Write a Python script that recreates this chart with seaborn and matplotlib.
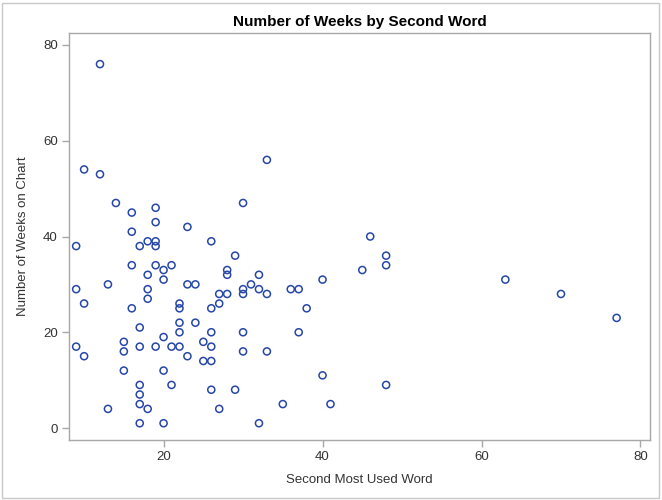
import matplotlib
matplotlib.use("Agg")
import matplotlib.pyplot as plt
from matplotlib.patches import Rectangle
import seaborn as sns
import pandas as pd

# Second most used word count vs. weeks on chart
second_word = [12, 10, 12, 14, 16, 19, 19, 23, 16, 18, 19, 19, 17, 9, 16, 19, 21, 20, 18, 20,
               9, 13, 18, 23, 24, 18, 10, 16, 22, 22, 22, 24, 17, 20, 22, 9, 15, 15, 17, 19,
               21, 22, 10, 23, 15, 20, 17, 21, 17, 17, 13, 18, 17, 20, 33, 30, 26, 29, 28, 28,
               32, 30, 31, 32, 36, 37, 40, 27, 28, 30, 33, 26, 27, 38, 26, 30, 37, 25, 26, 25,
               26, 30, 33, 40, 26, 29, 27, 35, 41, 32, 46, 48, 48, 45, 63, 70, 77, 48]
weeks_on_chart = [76, 54, 53, 47, 45, 46, 43, 42, 41, 39, 39, 38, 38, 38, 34, 34, 34, 33, 32, 31,
                  29, 30, 29, 30, 30, 27, 26, 25, 26, 25, 22, 22, 21, 19, 20, 17, 18, 16, 17, 17,
                  17, 17, 15, 15, 12, 12, 9, 9, 7, 5, 4, 4, 1, 1, 56, 47, 39, 36, 33, 32,
                  32, 29, 30, 29, 29, 29, 31, 28, 28, 28, 28, 25, 26, 25, 20, 20, 20, 18, 17, 14,
                  14, 16, 16, 11, 8, 8, 4, 5, 5, 1, 40, 36, 34, 33, 31, 28, 23, 9]

x_ticks = [20, 40, 60, 80]
y_ticks = [0, 20, 40, 60, 80]

df = pd.DataFrame({"Second Most Used Word": second_word,
                   "Number of Weeks on Chart": weeks_on_chart})

sns.set_theme(style="white")
plt.rcParams["font.family"] = ["Liberation Sans", "DejaVu Sans"]

fig = plt.figure(figsize=(6.62, 5.0), dpi=100)
ax = fig.add_axes([69 / 662, 60 / 500, 581 / 662, 407 / 500])

mark_color = "#2646a8"
sns.scatterplot(data=df, x="Second Most Used Word", y="Number of Weeks on Chart",
                marker="o", s=26, facecolor="none", edgecolor=mark_color,
                linewidth=1.1, ax=ax, legend=False)

ax.set_xlim(8.1, 81.2)
ax.set_ylim(-2.5, 82.5)
ax.set_xticks(x_ticks)
ax.set_yticks(y_ticks)

axis_grey = "#a8a8a8"
for sp in ax.spines.values():
    sp.set_color(axis_grey)
    sp.set_linewidth(1.0)
ax.tick_params(axis="both", which="major", direction="out", length=5, width=1,
               color=axis_grey, labelsize=9.5, labelcolor="#333333", pad=3)
ax.tick_params(axis="x", bottom=True)
ax.tick_params(axis="y", left=True)

ax.set_xlabel("Second Most Used Word", fontsize=9.5, color="#333333", labelpad=8)
ax.set_ylabel("Number of Weeks on Chart", fontsize=9.5, color="#333333", labelpad=10)
ax.set_title("Number of Weeks by Second Word", fontsize=11, fontweight="bold",
             color="black", pad=5)

# light border around the whole graphic
fig.patches.append(Rectangle((2 / 662, 2 / 500), 657 / 662, 495 / 500,
                             transform=fig.transFigure, fill=False,
                             edgecolor="#c8c8c8", linewidth=1.0))

fig.savefig("out.png", dpi=100)
